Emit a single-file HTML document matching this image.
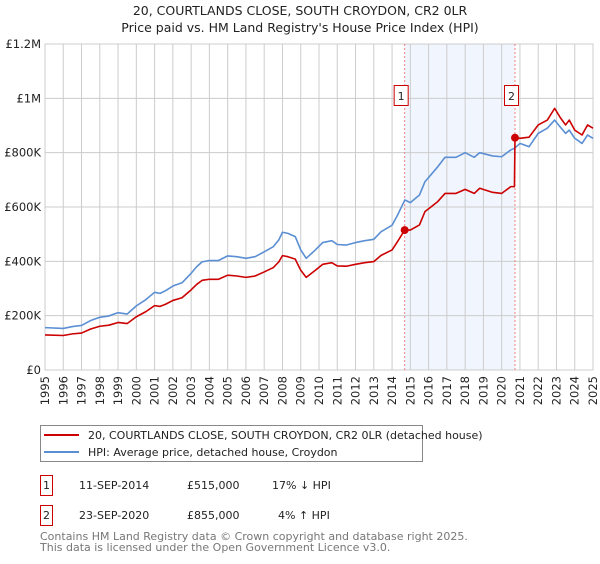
<!DOCTYPE html>
<html><head><meta charset="utf-8"><style>
body{margin:0;background:#fff;font-family:"DejaVu Sans","Liberation Sans",sans-serif;}
svg text{font-family:"DejaVu Sans","Liberation Sans",sans-serif;}
</style></head><body>
<svg id="c" width="600" height="560" xmlns="http://www.w3.org/2000/svg">
<text x="300" y="15" text-anchor="middle" font-size="12.5" fill="#222">20, COURTLANDS CLOSE, SOUTH CROYDON, CR2 0LR</text>
<text x="300" y="32" text-anchor="middle" font-size="12.5" fill="#222">Price paid vs. HM Land Registry's House Price Index (HPI)</text>
<g id="plot"></g>
<g>
<rect x="40.5" y="425.5" width="382" height="36" fill="#fff" stroke="#888"/>
<line x1="44" y1="435" x2="79" y2="435" stroke="#cc0000" stroke-width="2"/>
<text x="88" y="439" font-size="11" fill="#222">20, COURTLANDS CLOSE, SOUTH CROYDON, CR2 0LR (detached house)</text>
<line x1="44" y1="452" x2="79" y2="452" stroke="#5b8fd4" stroke-width="2"/>
<text x="88" y="456" font-size="11" fill="#222">HPI: Average price, detached house, Croydon</text>
</g>
<g font-size="11" fill="#222">
<rect x="40.5" y="475.5" width="12" height="20" fill="#fff" stroke="#cc0000"/>
<text x="46.5" y="489" text-anchor="middle">1</text>
<text x="79" y="489">11-SEP-2014</text>
<text x="187" y="489">£515,000</text>
<text x="272" y="489">17% ↓ HPI</text>
<rect x="40.5" y="505.5" width="12" height="20" fill="#fff" stroke="#cc0000"/>
<text x="46.5" y="519" text-anchor="middle">2</text>
<text x="79" y="519">23-SEP-2020</text>
<text x="187" y="519">£855,000</text>
<text x="278" y="519">4% ↑ HPI</text>
</g>
<text x="40" y="540" font-size="11" fill="#777">Contains HM Land Registry data © Crown copyright and database right 2025.</text>
<text x="40" y="551" font-size="11" fill="#777">This data is licensed under the Open Government Licence v3.0.</text>
</svg>
<script>
const yTicks=[0,200000,400000,600000,800000,1000000,1200000];
const yTickLabels=["£0","£200K","£400K","£600K","£800K","£1M","£1.2M"];
const years=[1995,1996,1997,1998,1999,2000,2001,2002,2003,2004,2005,2006,2007,2008,2009,2010,2011,2012,2013,2014,2015,2016,2017,2018,2019,2020,2021,2022,2023,2024,2025];
const hpiDates=[1995.0,1996.0,1996.5,1997.0,1997.5,1998.0,1998.5,1999.0,1999.5,2000.0,2000.5,2001.0,2001.3,2001.6,2002.0,2002.5,2003.0,2003.3,2003.6,2004.0,2004.5,2005.0,2005.5,2006.0,2006.5,2007.0,2007.5,2007.8,2008.0,2008.3,2008.7,2009.0,2009.3,2009.8,2010.2,2010.7,2011.0,2011.5,2012.0,2012.5,2013.0,2013.4,2014.0,2014.3,2014.7,2015.0,2015.5,2015.8,2016.5,2016.9,2017.5,2018.0,2018.5,2018.8,2019.5,2020.0,2020.5,2020.7,2021.0,2021.5,2022.0,2022.5,2022.9,2023.2,2023.5,2023.7,2024.0,2024.4,2024.7,2025.0];
const hpiValues=[156,153,160,164,182,194,199,211,206,236,258,286,282,292,309,321,356,380,398,403,403,420,417,411,417,435,454,479,507,503,491,442,411,442,469,476,462,460,469,476,481,509,533,570,626,616,644,693,748,783,783,800,783,800,788,785,810,816,834,822,871,890,920,895,871,883,853,834,865,853];
const priceDates=[1995.0,1996.0,1996.5,1997.0,1997.5,1998.0,1998.5,1999.0,1999.5,2000.0,2000.5,2001.0,2001.3,2001.6,2002.0,2002.5,2003.0,2003.3,2003.6,2004.0,2004.5,2005.0,2005.5,2006.0,2006.5,2007.0,2007.5,2007.8,2008.0,2008.3,2008.7,2009.0,2009.3,2009.8,2010.2,2010.7,2011.0,2011.5,2012.0,2012.5,2013.0,2013.4,2014.0,2014.3,2014.69,2015.0,2015.5,2015.8,2016.5,2016.9,2017.5,2018.0,2018.5,2018.8,2019.5,2020.0,2020.5,2020.7,2020.73,2021.0,2021.5,2022.0,2022.5,2022.9,2023.2,2023.5,2023.7,2024.0,2024.4,2024.7,2025.0];
const priceValues=[129,127,133,136,151,161,165,175,171,196,214,237,234,242,256,266,295,315,330,334,334,349,346,341,346,361,377,398,421,417,408,367,341,367,389,395,383,382,389,395,399,422,442,473,515,515,534,583,620,650,650,665,650,669,654,650,675,675,855,853,857,902,920,963,930,902,920,883,865,902,890];
const saleDates=[2014.69,2020.73];
const saleValues=[515,855];
const saleLabels=["1","2"];

const NS="http://www.w3.org/2000/svg";
const L=45,R=593,T=44,B=370;
const x=v=>L+(v-1995)/(2025-1995)*(R-L);
const y=v=>B-v/1200000*(B-T);
const g=document.getElementById('plot');
function mk(tag,attrs,parent){const e=document.createElementNS(NS,tag);for(const k in attrs)e.setAttribute(k,attrs[k]);(parent||g).appendChild(e);return e;}
const shade=mk('rect',{x:x(saleDates[0]),y:T,width:x(saleDates[1])-x(saleDates[0]),height:B-T,fill:'#eef3fc',opacity:'0.8'});


years.forEach(yr=>{const l=mk('line',{x1:x(yr),x2:x(yr),y1:T,y2:B,stroke:'#ccc','stroke-width':1});


const t=mk('text',{x:0,y:0,'font-size':11.5,fill:'#222','text-anchor':'end',transform:`translate(${x(yr)+4},${B+6}) rotate(-90)`});t.textContent=yr;

});
yTicks.forEach((v,i)=>{const l=mk('line',{x1:L,x2:R,y1:y(v),y2:y(v),stroke:'#ccc','stroke-width':1});


const t=mk('text',{x:41,y:y(v)+4,'font-size':11.5,fill:'#222','text-anchor':'end'});t.textContent=yTickLabels[i];

});
const fr=mk('rect',{x:L,y:T,width:R-L,height:B-T,fill:'none',stroke:'#ccc'});


saleDates.forEach((d,i)=>{const l=mk('line',{x1:x(d),x2:x(d),y1:T,y2:B,stroke:'#f08080','stroke-dasharray':'2,2','stroke-width':1});


const bx=mk('rect',{x:x(d)-10.5,y:85.5,width:14,height:20,fill:'#fff',stroke:'#cc0000'});


const t=mk('text',{x:x(d)-3.5,y:100,'font-size':11,fill:'#222','text-anchor':'middle'});t.textContent=saleLabels[i];

});
function line(ds,vs,col,name){const p=mk('polyline',{points:ds.map((d,i)=>x(d)+','+y(vs[i]*1000)).join(' '),fill:'none',stroke:col,'stroke-width':1.6,'stroke-linejoin':'round'});

}
line(hpiDates,hpiValues,'#5b8fd4','hpi-line');
line(priceDates,priceValues,'#cc0000','price-paid-line');
saleDates.forEach((d,i)=>{const c=mk('circle',{cx:x(d),cy:y(saleValues[i]*1000),r:4,fill:'#cc0000'});

});
</script>
</body></html>
